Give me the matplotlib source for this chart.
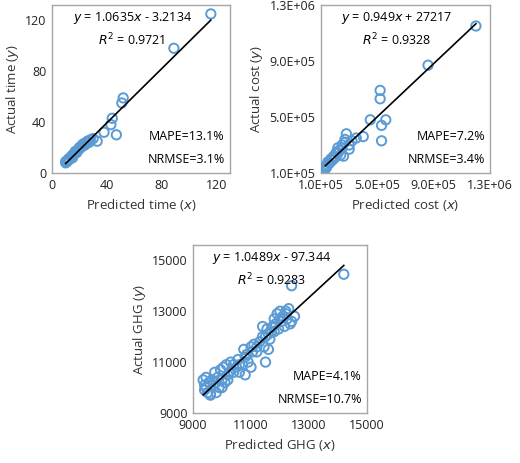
import matplotlib
matplotlib.use("Agg")
import matplotlib.pyplot as plt
import numpy as np

plt.rcParams['font.family'] = ['Open Sans', 'DejaVu Sans']

time_pred = [10,10,11,12,12,13,14,15,15,16,17,17,18,19,20,20,21,22,22,23,24,25,26,27,28,30,33,38,43,44,47,51,52,89,116]
time_act  = [8,9,9,10,11,11,13,12,14,15,17,16,16,18,19,20,20,22,21,23,22,24,25,24,26,27,25,32,38,43,30,55,59,98,125]
cost_pred = [1.3e5,1.35e5,1.4e5,1.45e5,1.5e5,1.6e5,1.7e5,1.8e5,1.9e5,2.0e5,2.1e5,2.2e5,2.3e5,2.4e5,2.5e5,2.6e5,2.7e5,2.8e5,3.0e5,3.2e5,3.5e5,4.0e5,4.5e5,5.2e5,5.2e5,5.3e5,5.3e5,5.6e5,8.6e5,1.2e6,2.2e5,2.5e5,2.7e5,3.0e5]
cost_act  = [1.3e5,1.5e5,1.4e5,1.6e5,1.8e5,1.7e5,2.0e5,1.9e5,2.2e5,2.1e5,2.5e5,2.4e5,2.6e5,2.3e5,2.8e5,2.2e5,3.2e5,3.8e5,3.0e5,3.3e5,3.5e5,3.6e5,4.8e5,6.9e5,6.3e5,4.4e5,3.3e5,4.8e5,8.7e5,1.15e6,2.8e5,3.0e5,3.4e5,2.7e5]
ghg_pred = [9350,9400,9450,9450,9500,9550,9600,9650,9700,9750,9800,9850,9900,9950,10000,10050,10100,10150,10200,10250,10300,10400,10500,10550,10600,10700,10750,10800,10850,10900,11000,11050,11100,11200,11300,11400,11400,11450,11500,11500,11550,11600,11650,11700,11750,11800,11850,11900,11950,12000,12050,12100,12150,12200,12250,12300,12350,12400,12500,12400,14200,9400,9600,9800,10000,10200,10400,10600,10800,11000,11200,11600,11800,12000,12200]
ghg_act  = [10300,9900,10000,10400,9800,10200,9700,10300,10100,10600,9800,10400,10000,10700,10300,10800,10200,10900,10500,10600,11000,10900,10800,11100,10600,10900,11500,10500,11300,11000,11600,11400,11700,11600,11800,12400,12000,11600,12000,11000,12300,11500,11900,12200,12400,12700,12500,12900,12300,13000,12600,12800,12400,13000,12700,13100,12500,14000,12800,12600,14450,10100,9750,10200,10000,10300,10600,10900,11200,10800,11400,12100,12200,12700,12900]

BLUE = '#5b9bd5'
fig = plt.figure(figsize=(5.2, 4.63), dpi=100)

def panel(rect, xs, ys, slope, icpt, xlim, ylim, ticks, tlabels, xl, yl, eq, r2, m1, m2):
    ax = fig.add_axes(rect)
    ax.scatter(xs, ys, s=45, facecolors='none', edgecolors=BLUE, linewidths=1.4, zorder=3)
    lx = np.array([min(xs), max(xs)])
    ax.plot(lx, slope*lx + icpt, color='black', lw=1.2, zorder=4)
    ax.set_xlim(*xlim); ax.set_ylim(*ylim)
    ax.set_xticks(ticks); ax.set_xticklabels(tlabels)
    ax.set_yticks(ticks); ax.set_yticklabels(tlabels)
    ax.tick_params(length=0, labelsize=9, colors='#222222', pad=4)
    for s in ax.spines.values():
        s.set_color('#a6a6a6'); s.set_linewidth(1)
    ax.set_xlabel(xl, fontsize=9.5, color='#333333', labelpad=4)
    ax.set_ylabel(yl, fontsize=9.5, color='#333333', labelpad=3)
    ax.text(0.45, 0.97, eq, transform=ax.transAxes, ha='center', va='top', fontsize=9)
    ax.text(0.45, 0.84, r2, transform=ax.transAxes, ha='center', va='top', fontsize=9)
    ax.text(0.97, 0.22, m1, transform=ax.transAxes, ha='right', va='center', fontsize=9)
    ax.text(0.97, 0.08, m2, transform=ax.transAxes, ha='right', va='center', fontsize=9)
    return ax

W, H = 520, 463
def r(l, t, rr, b):
    return [l/W, 1-b/H, (rr-l)/W, (b-t)/H]

panel(r(52, 5, 230, 173), time_pred, time_act, 1.0635, -3.2134, (0, 130), (0, 132),
      [0, 40, 80, 120], ['0', '40', '80', '120'], 'Predicted time ($x$)', 'Actual time ($y$)',
      '$y$ = 1.0635$x$ - 3.2134', '$R^2$ = 0.9721', 'MAPE=13.1%', 'NRMSE=3.1%')
panel(r(321, 5, 490, 173), cost_pred, cost_act, 0.949, 27217, (1e5, 1.3e6), (1e5, 1.3e6),
      [1e5, 5e5, 9e5, 1.3e6], ['1.0E+05', '5.0E+05', '9.0E+05', '1.3E+06'], 'Predicted cost ($x$)', 'Actual cost ($y$)',
      '$y$ = 0.949$x$ + 27217', '$R^2$ = 0.9328', 'MAPE=7.2%', 'NRMSE=3.4%')
panel(r(193, 245, 367, 413), ghg_pred, ghg_act, 1.0489, -97.344, (9000, 15000), (9000, 15600),
      [9000, 11000, 13000, 15000], ['9000', '11000', '13000', '15000'], 'Predicted GHG ($x$)', 'Actual GHG ($y$)',
      '$y$ = 1.0489$x$ - 97.344', '$R^2$ = 0.9283', 'MAPE=4.1%', 'NRMSE=10.7%')

fig.savefig('out.png', dpi=100)
